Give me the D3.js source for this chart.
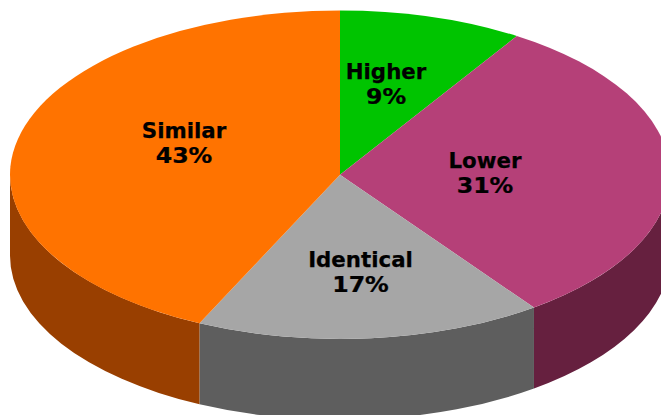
<!DOCTYPE html>
<html>
<head>
<meta charset="utf-8">
<script src="https://cdn.jsdelivr.net/npm/d3@7"></script>
<style>
html,body{margin:0;padding:0;background:#fff;overflow:hidden}
svg{display:block}
text{font-family:"DejaVu Sans",Verdana,sans-serif;font-weight:bold;font-size:21.33px;fill:#000;stroke:#000;stroke-width:.25px;text-anchor:middle}
</style>
</head>
<body>
<svg id="chart" width="661" height="415"></svg>
<script>
const categories = ["Higher", "Lower", "Identical", "Similar"];
const shares = [9, 31, 17, 43];
const topColors = ["#00c400", "#b54078", "#a6a6a6", "#ff7300"];
const sideColors = ["#006200", "#66203f", "#5e5e5e", "#993f00"];

// layout
const W = 661, H = 415, cx = 340, cy = 174.7, rx = 330, ry = 164.2, depth = 81;
const labelCenters = [[386, 83], [485, 172], [360.5, 271], [184, 142]];
const lineGap = 25;
const percentStretch = 1.11;

const svg = d3.select("#chart");
const pie = d3.pie().sort(null).value(d => d)(shares);
const arc = d3.arc().innerRadius(0).outerRadius(rx);
const px = a => cx + rx * Math.sin(a);
const py = a => cy - ry * Math.cos(a);

const lo = Math.PI / 2, hi = 3 * Math.PI / 2;
const sides = svg.append("g");
pie.forEach((s, i) => {
  const a0 = Math.max(s.startAngle, lo), a1 = Math.min(s.endAngle, hi);
  if (a1 <= a0) return;
  const large = a1 - a0 > Math.PI ? 1 : 0;
  const d = `M${px(a0)},${py(a0)}A${rx},${ry} 0 ${large} 1 ${px(a1)},${py(a1)}` +
            `L${px(a1)},${py(a1) + depth}A${rx},${ry} 0 ${large} 0 ${px(a0)},${py(a0) + depth}Z`;
  sides.append("path").attr("d", d).attr("fill", sideColors[i]);
});

svg.append("g")
  .attr("transform", `translate(${cx},${cy}) scale(1,${ry / rx})`)
  .selectAll("path").data(pie).join("path")
  .attr("d", arc)
  .attr("fill", (d, i) => topColors[i]);

const labels = svg.append("g").selectAll("g").data(pie).join("g")
  .attr("transform", (d, i) => `translate(${labelCenters[i][0]},${labelCenters[i][1]})`);
labels.append("text").attr("y", -4.5).text((d, i) => categories[i]);
labels.append("text")
  .attr("transform", `translate(0,${lineGap - 4.5}) scale(${percentStretch},1)`)
  .text(d => d.value + "%");
</script>
</body>
</html>
